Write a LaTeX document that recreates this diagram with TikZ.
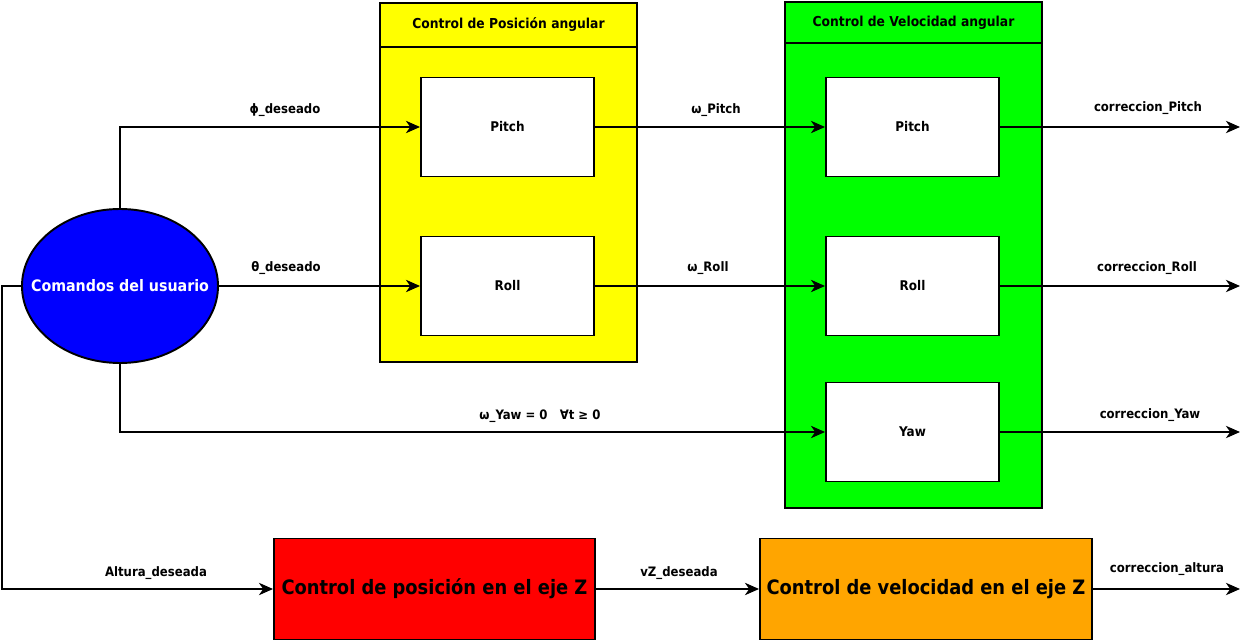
\documentclass[tikz,border=0pt]{standalone}
\usepackage{fontspec}
\setmainfont{DejaVu Sans Condensed}
\usetikzlibrary{arrows.meta, positioning, shapes.geometric}
\definecolor{zorange}{HTML}{FFA500}
\definecolor{zyellow}{HTML}{FFFF00}
\definecolor{zgreen}{HTML}{00FF00}
\definecolor{zblue}{HTML}{0000FF}

\tikzset{
  ctrl/.style={draw, fill=white, minimum width=3.46cm, minimum height=1.98cm, inner sep=0pt, font=\fontsize{7.6}{8}\selectfont\bfseries},
  lbl/.style={font=\fontsize{7.4}{8}\selectfont\bfseries, inner sep=0pt},
  headlbl/.style={font=\fontsize{7.8}{9}\selectfont\bfseries, inner sep=0pt},
  zbox/.style={draw, minimum height=2.02cm, inner sep=0pt, font=\fontsize{11.3}{13}\selectfont\bfseries},
}

\begin{document}
\begin{tikzpicture}[>={Stealth[length=8pt,width=7pt,inset=2.4pt]}, line width=1.1pt]
\useasboundingbox (0,0) rectangle (24.88,-12.82);
% position and velocity containers
\draw[fill=zyellow] (7.6,-0.06) rectangle (12.74,-7.24);
\draw (7.6,-0.94) -- (12.74,-0.94);
\node[headlbl] (tpos) at (10.17,-0.5) {Control de Posición angular};
\draw[fill=zgreen] (15.7,-0.04) rectangle (20.84,-10.16);
\draw (15.7,-0.86) -- (20.84,-0.86);
\node[headlbl] (tvel) at (18.27,-0.45) {Control de Velocidad angular};

\node[ellipse, draw, fill=zblue, minimum width=3.92cm, minimum height=3.08cm, inner sep=0pt] (user) at (2.4,-5.72) {};
\node[text=white, inner sep=0pt, font=\fontsize{9}{10}\selectfont\bfseries] (tuser) at (user.center) {Comandos del usuario};

\node[ctrl] (ypitch) at (10.15,-2.54) {Pitch};
\node[ctrl] (yroll) at (10.15,-5.72) {Roll};
\node[ctrl] (gpitch) at (18.25,-2.54) {Pitch};
\node[ctrl] (groll) at (18.25,-5.72) {Roll};
\node[ctrl] (gyaw) at (18.25,-8.64) {Yaw};

\node[zbox, fill=red, minimum width=6.42cm] (zpos) at (8.69,-11.78) {Control de posición en el eje Z};
\node[zbox, fill=zorange, minimum width=6.64cm] (zvel) at (18.52,-11.78) {Control de velocidad en el eje Z};

\coordinate (lft) at (0.04,-5.72);
\coordinate (opitch) at (24.8,-2.54);
\coordinate (oroll) at (24.8,-5.72);
\coordinate (oyaw) at (24.8,-8.64);
\coordinate (oalt) at (24.8,-11.78);

\draw[->] (user.north) |- (ypitch.west);
\draw[->] (user.east) -- (yroll.west);
\draw[->] (user.south) |- (gyaw.west);
\draw[->] (user.west) -- (lft) |- (zpos.west);
\draw[->] (ypitch.east) -- (gpitch.west);
\draw[->] (yroll.east) -- (groll.west);
\draw[->] (gpitch.east) -- (opitch);
\draw[->] (groll.east) -- (oroll);
\draw[->] (gyaw.east) -- (oyaw);
\draw[->] (zpos.east) -- (zvel.west);
\draw[->] (zvel.east) -- (oalt);

% labels
\node[lbl] (lphi) at (5.7,-2.2) {ϕ\_deseado};
\node[lbl] (ltheta) at (5.72,-5.36) {θ\_deseado};
\node[lbl] (lwpitch) at (14.32,-2.2) {ω\_Pitch};
\node[lbl] (lwroll) at (14.16,-5.36) {ω\_Roll};
\node[lbl] (lwyaw) at (10.8,-8.32) {ω\_Yaw = 0\ \ \ ∀t ≥ 0};
\node[lbl] (lcpitch) at (22.96,-2.16) {correccion\_Pitch};
\node[lbl] (lcroll) at (22.94,-5.36) {correccion\_Roll};
\node[lbl] (lcyaw) at (23.0,-8.3) {correccion\_Yaw};
\node[lbl] (lalt) at (3.12,-11.46) {Altura\_deseada};
\node[lbl] (lvz) at (13.58,-11.46) {vZ\_deseada};
\node[lbl] (lcalt) at (23.34,-11.38) {correccion\_altura};
\end{tikzpicture}
\end{document}
